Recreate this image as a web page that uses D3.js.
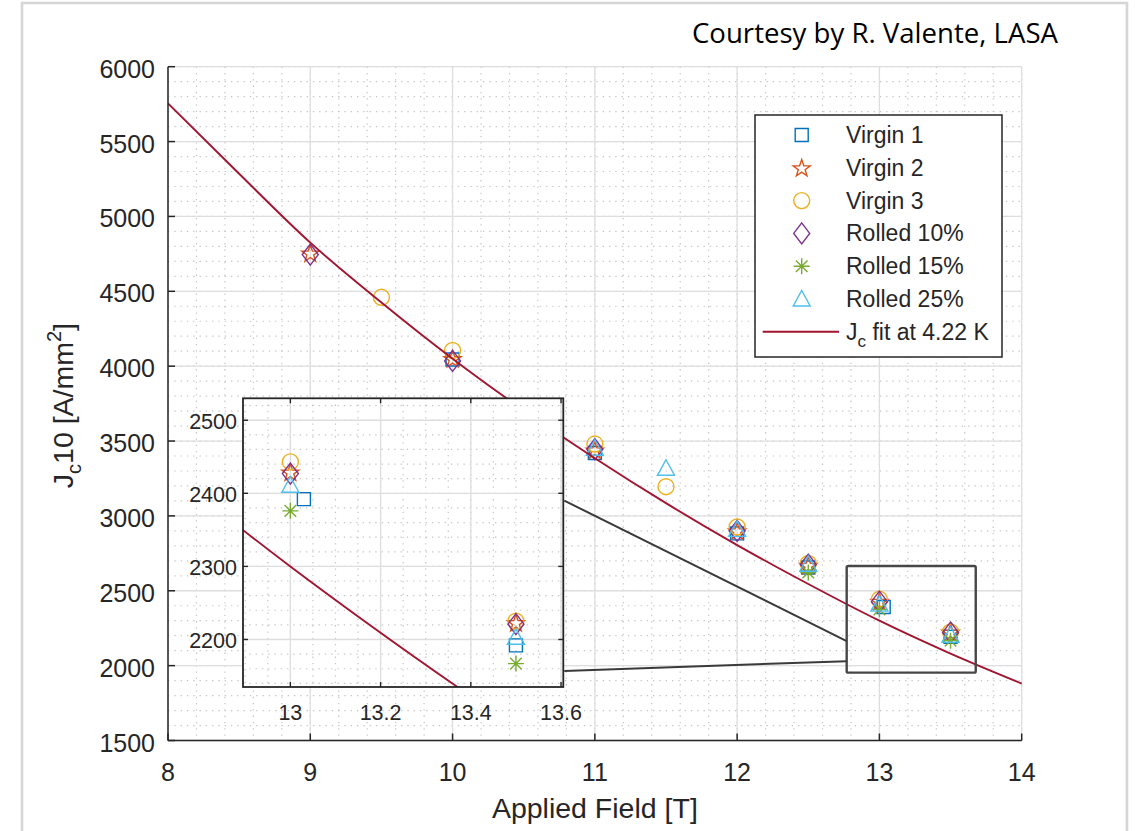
<!DOCTYPE html>
<html>
<head>
<meta charset="utf-8">
<script src="https://cdn.jsdelivr.net/npm/d3@7"></script>
<style>
body { margin: 0; background: #fff; }
figure { margin: 0; }
text { font-family: "Liberation Sans", Arial, sans-serif; fill: #262626; }
</style>
</head>
<body>
<figure></figure>
<script>
// series, in legend order
const seriesNames = ["Virgin 1", "Virgin 2", "Virgin 3", "Rolled 10%", "Rolled 15%", "Rolled 25%"]
const seriesColors = ["#0072BD", "#D95319", "#EDB120", "#7E2F8E", "#77AC30", "#4DBEEE"]
const seriesSymbols = ["square", "star", "circle", "diamond", "asterisk", "triangle"]

// [applied field T, Jc A/mm2]
const virgin1 = [[10, 4045], [11, 3420], [12, 2883], [12.5, 2655], [13.03, 2392], [13.5, 2192]]
const virgin2 = [[9, 4755], [10, 4050], [11, 3440], [12, 2900], [12.5, 2670], [13, 2429], [13.5, 2223]]
const virgin3 = [[9.5, 4460], [10, 4105], [11, 3480], [11.5, 3195], [12, 2926], [12.5, 2682], [13, 2443], [13.5, 2225]]
const rolled10 = [[9, 4745], [10, 4035], [11, 3445], [12, 2900], [12.5, 2675], [13, 2427], [13.5, 2221]]
const rolled15 = [[12.5, 2622], [13, 2376], [13.5, 2167]]
const rolled25 = [[11, 3452], [11.5, 3318], [12, 2910], [12.5, 2677], [13, 2411], [13.5, 2203]]
const seriesData = [virgin1, virgin2, virgin3, rolled10, rolled15, rolled25]

// Jc fit at 4.22 K
const fitField = [8, 8.5, 9, 9.5, 10, 10.5, 11, 11.5, 12, 12.5, 13, 13.5, 14]
const fitJc = [5755, 5285, 4825, 4425, 4050, 3705, 3385, 3085, 2805, 2545, 2300, 2080, 1880]

const xTicks = [8, 9, 10, 11, 12, 13, 14]
const yTicks = [1500, 2000, 2500, 3000, 3500, 4000, 4500, 5000, 5500, 6000]
const insetXTicks = [13, 13.2, 13.4, 13.6]
const insetYTicks = [2200, 2300, 2400, 2500]

// zoom window shown in the main plot, and the two connector lines
const zoomBox = {x0: 12.77, x1: 13.677, y0: 1953, y1: 2665}
const connectors = [{insetJc: 2390, mainB: 12.77, mainJc: 2164}, {insetJc: 2157, mainB: 12.77, mainJc: 2030}]

const axisColor = "#262626", majorGrid = "#dedede", minorGrid = "#c4c4c4"

const svg = d3.select("figure").append("svg")
    .attr("xmlns", "http://www.w3.org/2000/svg")
    .attr("width", 1135).attr("height", 831)

const x = d3.scaleLinear().domain([8, 14]).range([168, 1021.7]),
    y = d3.scaleLinear().domain([1500, 6000]).range([740.5, 66.7])

const inset = {left: 243, top: 398.3, width: 320.3, height: 288.7}
const xi = d3.scaleLinear().domain([12.895, 13.605]).range([inset.left, inset.left + inset.width]),
    yi = d3.scaleLinear().domain([2135, 2530]).range([inset.top + inset.height, inset.top])

// outer frame of the picture
svg.append("rect").attr("x", 22).attr("y", 3).attr("width", 1105).attr("height", 850)
    .attr("fill", "none").attr("stroke", "#d6d6d6").attr("stroke-width", 2.6)

svg.append("text")
    .text("Courtesy by R. Valente, LASA")
    .attr("x", 692).attr("y", 43)
    .attr("textLength", 366).attr("lengthAdjust", "spacingAndGlyphs")
    .style("font-family", "'Open Sans', 'Noto Sans', sans-serif")
    .style("font-size", "27px").style("fill", "#000")

function markerPath(type) {
    switch (type) {
        case "square": return "M-6.5,-6.5h13v13h-13z"
        case "circle": return "M8,0A8,8 0 1,1 -8,0A8,8 0 1,1 8,0Z"
        case "diamond": return "M0,-10.5L8,0L0,10.5L-8,0Z"
        case "triangle": return "M0,-8.5L8.5,7L-8.5,7Z"
        case "star": {
            const pts = d3.range(10).map(i => {
                const r = i % 2 ? 3.6 : 9, a = -Math.PI / 2 + i * Math.PI / 5
                return [r * Math.cos(a), r * Math.sin(a) + 0.8]
            })
            return "M" + pts.join("L") + "Z"
        }
        case "asterisk": {
            const r = 8, d = 5.8
            return `M${-r},0H${r}M0,${-r}V${r}M${-d},${-d}L${d},${d}M${-d},${d}L${d},${-d}`
        }
    }
}

function drawGrid(g, xs, ys, xMinor, yMinor, xMajor, yMajor) {
    const [x0, x1] = xs.range(), [y1, y0] = ys.range()
    g.append("g").selectAll("line").data(xMinor).enter().append("line")
        .attr("x1", d => xs(d)).attr("x2", d => xs(d)).attr("y1", y0).attr("y2", y1)
        .attr("stroke", minorGrid).attr("stroke-dasharray", "1.3 5").attr("stroke-width", 1.2)
    g.append("g").selectAll("line").data(yMinor).enter().append("line")
        .attr("y1", d => ys(d)).attr("y2", d => ys(d)).attr("x1", x0).attr("x2", x1)
        .attr("stroke", minorGrid).attr("stroke-dasharray", "1.3 5").attr("stroke-width", 1.2)
    g.append("g").selectAll("line").data(xMajor).enter().append("line")
        .attr("x1", d => xs(d)).attr("x2", d => xs(d)).attr("y1", y0).attr("y2", y1)
        .attr("stroke", majorGrid).attr("stroke-width", 1.3)
    g.append("g").selectAll("line").data(yMajor).enter().append("line")
        .attr("y1", d => ys(d)).attr("y2", d => ys(d)).attr("x1", x0).attr("x2", x1)
        .attr("stroke", majorGrid).attr("stroke-width", 1.3)
}

function drawData(g, xs, ys) {
    seriesData.forEach((pts, i) => {
        g.append("g").selectAll("path").data(pts).enter().append("path")
            .attr("d", markerPath(seriesSymbols[i]))
            .attr("transform", d => `translate(${xs(d[0])},${ys(d[1])})`)
            .attr("fill", "none").attr("stroke", seriesColors[i]).attr("stroke-width", 1.4)
    })
    g.append("path")
        .datum(fitField.map((b, i) => [b, fitJc[i]]))
        .attr("d", d3.line().x(d => xs(d[0])).y(d => ys(d[1])).curve(d3.curveMonotoneX))
        .attr("fill", "none").attr("stroke", "#A2142F").attr("stroke-width", 1.9)
}

// ---- main axes
const main = svg.append("g")
drawGrid(main, x, y, d3.range(8, 14.001, 0.2), d3.range(1500, 6001, 100), xTicks, yTicks)
drawData(main, x, y)

main.append("line").attr("x1", x(8)).attr("x2", x(8)).attr("y1", y(1500)).attr("y2", y(6000))
    .attr("stroke", axisColor).attr("stroke-width", 1.5)
main.append("line").attr("x1", x(8)).attr("x2", x(14)).attr("y1", y(1500)).attr("y2", y(1500))
    .attr("stroke", axisColor).attr("stroke-width", 1.5)
main.append("g").selectAll("line").data(yTicks).enter().append("line")
    .attr("x1", x(8)).attr("x2", x(8) + 7).attr("y1", d => y(d)).attr("y2", d => y(d))
    .attr("stroke", axisColor).attr("stroke-width", 1.5)
main.append("g").selectAll("line").data(xTicks).enter().append("line")
    .attr("x1", d => x(d)).attr("x2", d => x(d)).attr("y1", y(1500)).attr("y2", y(1500) - 7)
    .attr("stroke", axisColor).attr("stroke-width", 1.5)
main.append("g").selectAll("text").data(yTicks).enter().append("text")
    .text(d => d).attr("x", x(8) - 13).attr("y", d => y(d) + 11)
    .attr("text-anchor", "end").style("font-size", "25px")
main.append("g").selectAll("text").data(xTicks).enter().append("text")
    .text(d => d).attr("x", d => x(d)).attr("y", y(1500) + 40)
    .attr("text-anchor", "middle").style("font-size", "25px")

svg.append("text")
    .text("Applied Field [T]")
    .attr("x", (x(8) + x(14)) / 2).attr("y", 818)
    .attr("text-anchor", "middle").style("font-size", "28.5px")

const ylab = svg.append("text")
    .attr("transform", `translate(73,${(y(1500) + y(6000)) / 2 + 2}) rotate(-90)`)
    .attr("text-anchor", "middle").style("font-size", "28.5px")
ylab.append("tspan").text("J")
ylab.append("tspan").text("c").attr("dy", 8).style("font-size", "20px")
ylab.append("tspan").text("10 [A/mm").attr("dy", -8)
ylab.append("tspan").text("2").attr("dy", -12).style("font-size", "20px")
ylab.append("tspan").text("]").attr("dy", 12)

// ---- inset
svg.append("clipPath").attr("id", "insetClip").append("rect")
    .attr("x", inset.left).attr("y", inset.top).attr("width", inset.width).attr("height", inset.height)
const ins = svg.append("g")
ins.append("rect").attr("x", inset.left).attr("y", inset.top)
    .attr("width", inset.width).attr("height", inset.height).attr("fill", "#fff")
const insIn = ins.append("g").attr("clip-path", "url(#insetClip)")
drawGrid(insIn, xi, yi, d3.range(12.9, 13.61, 0.05), d3.range(2140, 2530, 20), insetXTicks, insetYTicks)
drawData(insIn, xi, yi)

const iB = inset.top + inset.height, iR = inset.left + inset.width
ins.append("g").selectAll("line").data(insetXTicks).enter().append("line")
    .attr("x1", d => xi(d)).attr("x2", d => xi(d)).attr("y1", iB).attr("y2", iB - 5)
    .attr("stroke", axisColor).attr("stroke-width", 1.4)
ins.append("g").selectAll("line").data(insetXTicks).enter().append("line")
    .attr("x1", d => xi(d)).attr("x2", d => xi(d)).attr("y1", inset.top).attr("y2", inset.top + 5)
    .attr("stroke", axisColor).attr("stroke-width", 1.4)
ins.append("g").selectAll("line").data(insetYTicks).enter().append("line")
    .attr("x1", inset.left).attr("x2", inset.left + 5).attr("y1", d => yi(d)).attr("y2", d => yi(d))
    .attr("stroke", axisColor).attr("stroke-width", 1.4)
ins.append("g").selectAll("line").data(insetYTicks).enter().append("line")
    .attr("x1", iR).attr("x2", iR - 5).attr("y1", d => yi(d)).attr("y2", d => yi(d))
    .attr("stroke", axisColor).attr("stroke-width", 1.4)
ins.append("rect").attr("x", inset.left).attr("y", inset.top)
    .attr("width", inset.width).attr("height", inset.height)
    .attr("fill", "none").attr("stroke", axisColor).attr("stroke-width", 1.8)
ins.append("g").selectAll("text").data(insetYTicks).enter().append("text")
    .text(d => d).attr("x", inset.left - 6).attr("y", d => yi(d) + 8.5)
    .attr("text-anchor", "end").style("font-size", "21.5px")
ins.append("g").selectAll("text").data(insetXTicks).enter().append("text")
    .text(d => d).attr("x", d => xi(d)).attr("y", iB + 33)
    .attr("text-anchor", "middle").style("font-size", "21.5px")

// ---- zoom window and connectors
svg.append("rect")
    .attr("x", x(zoomBox.x0)).attr("y", y(zoomBox.y1))
    .attr("width", x(zoomBox.x1) - x(zoomBox.x0)).attr("height", y(zoomBox.y0) - y(zoomBox.y1))
    .attr("rx", 1.5).attr("fill", "none").attr("stroke", "#474747").attr("stroke-width", 2.4)
svg.append("g").selectAll("line").data(connectors).enter().append("line")
    .attr("x1", iR + 1).attr("y1", d => yi(d.insetJc))
    .attr("x2", d => x(d.mainB)).attr("y2", d => y(d.mainJc))
    .attr("stroke", "#3a3a3a").attr("stroke-width", 2)

// ---- legend
const legend = svg.append("g").attr("transform", "translate(755,115)")
legend.append("rect").attr("width", 247).attr("height", 242)
    .attr("fill", "#fff").attr("stroke", axisColor).attr("stroke-width", 1.5)
const rowY = i => 20 + i * 32.8
seriesNames.forEach((name, i) => {
    legend.append("path").attr("d", markerPath(seriesSymbols[i]))
        .attr("transform", `translate(46.7,${rowY(i)})`)
        .attr("fill", "none").attr("stroke", seriesColors[i]).attr("stroke-width", 1.4)
    legend.append("text").text(name).attr("x", 91).attr("y", rowY(i) + 8)
        .style("font-size", "23px")
})
legend.append("line").attr("x1", 7.7).attr("x2", 84).attr("y1", rowY(6)).attr("y2", rowY(6))
    .attr("stroke", "#A2142F").attr("stroke-width", 1.9)
const fitLab = legend.append("text").attr("x", 91).attr("y", rowY(6) + 8).style("font-size", "23px")
fitLab.append("tspan").text("J")
fitLab.append("tspan").text("c").attr("dy", 7).style("font-size", "17px")
fitLab.append("tspan").text(" fit at 4.22 K").attr("dy", -7)
</script>
</body>
</html>
